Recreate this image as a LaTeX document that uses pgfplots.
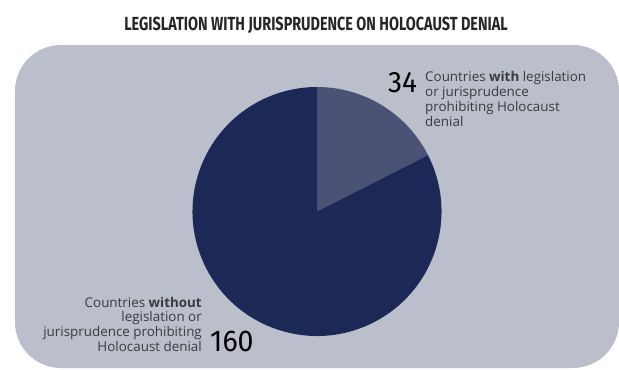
\documentclass[border=0pt]{standalone}
\usepackage{pgfplots}
\pgfplotsset{compat=1.18}
\usepackage{fontspec}
\setmainfont{Open Sans}
\newfontfamily\titlefont[FakeStretch=0.76]{Fira Sans}
\newfontfamily\numfont[FakeStretch=0.95]{Fira Sans}
\definecolor{boxbg}{HTML}{BBBFCC}
\definecolor{darkslice}{HTML}{1C2957}
\definecolor{lightslice}{HTML}{4A5276}
\definecolor{txt}{HTML}{3A3A3E}
\definecolor{ttl}{HTML}{262628}
\begin{document}
\begin{tikzpicture}
\def\valWith{34}
\def\valWithout{160}
\pgfmathsetmacro{\angWith}{360*\valWith/(\valWith+\valWithout)}
\pgfmathsetmacro{\endWith}{90-\angWith}
\begin{axis}[
  hide axis, scale only axis,
  width=619bp, height=370bp,
  xmin=0, xmax=619, ymin=0, ymax=370,
  clip=false,
]
\path (axis cs:0,0) rectangle (axis cs:619,370);
% background panel
\fill[boxbg, rounded corners=46bp] (axis cs:15,325) rectangle (axis cs:619,2);
% pie slices from data
\fill[lightslice] (axis cs:317,158.5) -- ++(90:124.5bp) arc[start angle=90, end angle=\endWith, radius=124.5bp] -- cycle;
\fill[darkslice] (axis cs:317,158.5) -- ++(\endWith:124.5bp) arc[start angle=\endWith, end angle=-270, radius=124.5bp] -- cycle;
% title
\node[anchor=base, inner sep=0, text=ttl, font=\titlefont\bfseries\fontsize{19bp}{20bp}\selectfont] at (axis cs:316,340) {LEGISLATION WITH JURISPRUDENCE ON HOLOCAUST DENIAL};
% 34 label
\node[anchor=base west, inner sep=0, text=black, font=\numfont\fontsize{29.5bp}{30bp}\selectfont] at (axis cs:388,278) {\valWith};
\node[anchor=base west, inner sep=0, text=txt, font=\fontsize{13.4bp}{15bp}\selectfont] at (axis cs:425,288.3)
  {\begin{tabular}[t]{@{}l@{}}Countries \textbf{with} legislation\\ or jurisprudence\\ prohibiting Holocaust\\ denial\end{tabular}};
% 160 label
\node[anchor=base west, inner sep=0, text=black, font=\numfont\fontsize{30bp}{32bp}\selectfont] at (axis cs:210,18.3) {\valWithout};
\node[anchor=base east, inner sep=0, text=txt, font=\fontsize{13.4bp}{14.4bp}\selectfont] at (axis cs:202,19)
  {\begin{tabular}[b]{@{}r@{}}Countries \textbf{without}\\ legislation or\\ jurisprudence prohibiting\\ Holocaust denial\end{tabular}};
\end{axis}
\end{tikzpicture}
\end{document}
